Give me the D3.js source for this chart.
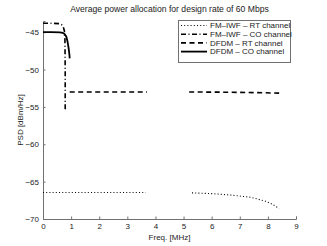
<!DOCTYPE html>
<html><head><meta charset="utf-8">
<script src="https://cdn.jsdelivr.net/npm/d3@7"></script>
<style>body{margin:0;background:#fff;} svg{display:block;font-family:"Liberation Sans",Arial,sans-serif;}</style>
</head><body>
<svg id="c" width="327" height="246"></svg>
<script>
const xTicks = [0,1,2,3,4,5,6,7,8,9];
const yTicks = [-70,-65,-60,-55,-50,-45];
const seriesNames = ["FM\u2013IWF \u2013 RT channel","FM\u2013IWF \u2013 CO channel","DFDM \u2013 RT channel","DFDM \u2013 CO channel"];
// FM-IWF RT (dotted)
const fmRtX = [0, 1, 2, 3, 3.65, null, 5.3, 6.0, 6.7, 7.4, 7.9, 8.15, 8.4];
const fmRtY = [-66.45, -66.45, -66.45, -66.45, -66.45, null, -66.5, -66.6, -66.8, -67.1, -67.6, -68.0, -68.6];
// FM-IWF CO (dash-dot)
const fmCoX = [0, 0.3, 0.58, 0.66, 0.72, 0.76, 0.78, 0.79, 0.79];
const fmCoY = [-43.8, -43.8, -43.85, -44.0, -44.3, -44.8, -46, -50, -55.5];
// DFDM RT (dashed)
const dfRtX = [0.95, 2, 3.7, null, 5.2, 6.5, 7.5, 8.4];
const dfRtY = [-53.0, -53.0, -53.0, null, -53.0, -53.03, -53.08, -53.15];
// DFDM CO (solid)
const dfCoX = [0, 0.3, 0.6, 0.7, 0.77, 0.83, 0.87, 0.91, 0.94, 0.95];
const dfCoY = [-45, -45, -45.02, -45.08, -45.25, -45.6, -46.2, -47.1, -48.0, -48.5];

const svg = d3.select("#c");
const m = {l:43, r:31, t:21, b:27};
const W = 327, H = 246;
const x = d3.scaleLinear().domain([0,9]).range([m.l, W-m.r]);
const y = d3.scaleLinear().domain([-70,-43.5]).range([H-m.b, m.t]);
const axisCol = "#707070", txtCol = "#222";

// axes
const gx = svg.append("g").attr("transform",`translate(0,${H-m.b})`)
  .call(d3.axisBottom(x).tickValues(xTicks).tickSize(-2.5).tickPadding(4).tickFormat(d3.format("d")));
const gy = svg.append("g").attr("transform",`translate(${m.l},0)`)
  .call(d3.axisLeft(y).tickValues(yTicks).tickSize(-2.5).tickPadding(4).tickFormat(d=>d<0?"\u2212"+Math.abs(d):d));
[gx,gy].forEach(g=>{
  g.select(".domain").attr("stroke",axisCol).attr("stroke-width",1);
  g.selectAll(".tick line").attr("stroke",axisCol);
  g.selectAll(".tick text").attr("fill",txtCol).style("font-size","8px");
});

const mk = (xs,ys)=>xs.map((v,i)=>[v,ys[i]]);
const line = d3.line().defined(d=>d[0]!==null).x(d=>x(d[0])).y(d=>y(d[1]));
const styles = [
  {d:mk(fmRtX,fmRtY), dash:"1,2.2", w:1.1},
  {d:mk(fmCoX,fmCoY), dash:"5,2.5,1,2.5", w:1.6},
  {d:mk(dfRtX,dfRtY), dash:"5,3.5", w:1.6},
  {d:mk(dfCoX,dfCoY), dash:null, w:1.8}
];
styles.forEach(s=>{
  svg.append("path").attr("d",line(s.d)).attr("fill","none").attr("stroke","#000")
    .attr("stroke-width",s.w).attr("stroke-dasharray",s.dash);
});

// title, labels
svg.append("text").attr("x",(m.l+W-m.r)/2).attr("y",12).attr("text-anchor","middle")
  .style("font-size","8.6px").attr("fill",txtCol).text("Average power allocation for design rate of 60 Mbps");
svg.append("text").attr("x",(m.l+W-m.r)/2).attr("y",240).attr("text-anchor","middle")
  .style("font-size","8px").attr("fill",txtCol).text("Freq. [MHz]");
svg.append("text").attr("transform",`translate(23,${(m.t+H-m.b)/2}) rotate(-90)`).attr("text-anchor","middle")
  .style("font-size","8px").attr("fill",txtCol).text("PSD [dBm/Hz]");

// legend
const lg = svg.append("g");
lg.append("rect").attr("x",178.5).attr("y",20.5).attr("width",112).attr("height",42)
  .attr("fill","#fff").attr("stroke",axisCol).attr("stroke-width",1);
seriesNames.forEach((n,i)=>{
  const yy = 25.5 + i*8.7;
  lg.append("line").attr("x1",181).attr("x2",207).attr("y1",yy).attr("y2",yy)
    .attr("stroke","#000").attr("stroke-width",styles[i].w).attr("stroke-dasharray",styles[i].dash);
  lg.append("text").attr("x",210).attr("y",yy+2.8).style("font-size","8px").attr("fill",txtCol).text(n);
});
</script>
</body></html>
